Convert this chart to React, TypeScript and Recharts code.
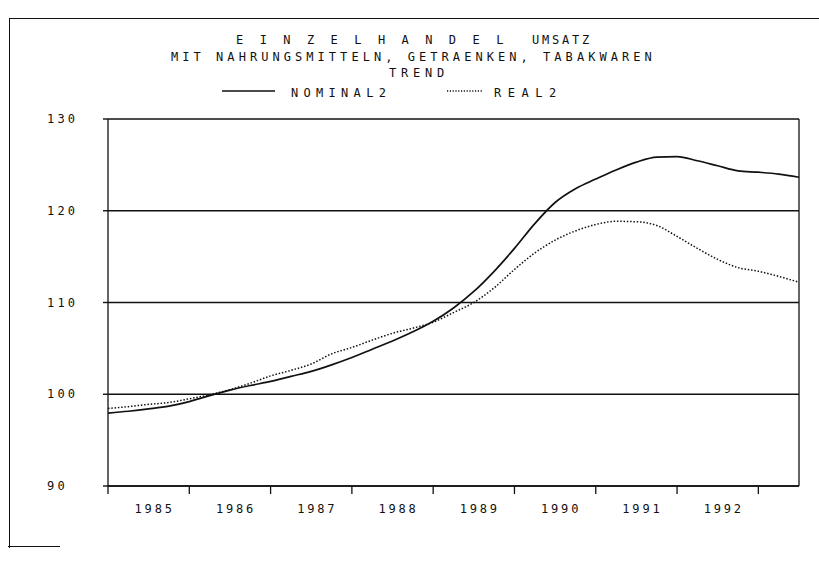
import React from 'react';
import {
  LineChart,
  Line,
  XAxis,
  YAxis,
  CartesianGrid,
  ReferenceLine,
} from 'recharts';

// quarterly trend values
const years = [
  1985, 1985.25, 1985.5, 1985.75,
  1986, 1986.25, 1986.5, 1986.75,
  1987, 1987.25, 1987.5, 1987.75,
  1988, 1988.25, 1988.5, 1988.75,
  1989, 1989.25, 1989.5, 1989.75,
  1990, 1990.25, 1990.5, 1990.75,
  1991, 1991.25, 1991.5, 1991.75,
  1992, 1992.25, 1992.5, 1992.75,
  1993, 1993.25, 1993.5,
];

const nominal2 = [
  97.95, 98.15, 98.4, 98.7,
  99.2, 99.85, 100.45, 100.95,
  101.4, 101.95, 102.5, 103.2,
  104.0, 104.9, 105.8, 106.8,
  107.95, 109.4, 111.2, 113.4,
  115.9, 118.6, 120.9, 122.4,
  123.45, 124.45, 125.3, 125.85,
  125.9, 125.45, 124.9, 124.35,
  124.2, 124.0, 123.65,
];

const real2 = [
  98.45, 98.65, 98.9, 99.1,
  99.5, 99.95, 100.5, 101.2,
  102.0, 102.6, 103.3, 104.4,
  105.1, 105.9, 106.65, 107.2,
  107.85, 108.9, 110.0, 111.6,
  113.6, 115.4, 116.8, 117.8,
  118.5, 118.85, 118.8, 118.4,
  117.2, 115.9, 114.7, 113.8,
  113.4, 112.85, 112.2,
];

const yTicks = [90, 100, 110, 120, 130];
const yearTicks = [1985, 1986, 1987, 1988, 1989, 1990, 1991, 1992, 1993];
const yearLabels = [1985, 1986, 1987, 1988, 1989, 1990, 1991, 1992];

const data = years.map((t, i) => ({ t, nominal: nominal2[i], real: real2[i] }));

// integer ticks get a tick mark, half-year ticks carry the year label
const xTickValues = [
  ...yearTicks,
  ...yearLabels.map((y) => y + 0.5),
].sort((a, b) => a - b);

const FONT = '"DejaVu Sans Mono", monospace';

function XTick(props: any) {
  const { x, y, payload } = props;
  const v = payload.value as number;
  if (Number.isInteger(v)) {
    return <line x1={x} x2={x} y1={y} y2={y + 8} stroke="#111" strokeWidth={1.3} />;
  }
  return (
    <text
      x={x + 6}
      y={y + 27}
      textAnchor="middle"
      fontFamily={FONT}
      fontSize={12}
      letterSpacing={2.8}
      fill="#111"
    >
      {Math.floor(v)}
    </text>
  );
}

function YTick(props: any) {
  const { x, y, payload } = props;
  return (
    <text
      x={x - 56}
      y={y + 4}
      textAnchor="start"
      fontFamily={FONT}
      fontSize={12}
      letterSpacing={3.2}
      fill="#111"
    >
      {payload.value}
    </text>
  );
}

export default function App() {
  return (
    <div
      style={{
        position: 'absolute',
        left: 0,
        top: 0,
        width: 819,
        height: 564,
        background: '#fff',
        overflow: 'hidden',
      }}
    >
      {/* page frame */}
      <div
        style={{
          position: 'absolute',
          left: 9,
          top: 18,
          width: 830,
          height: 529,
          borderLeft: '1.5px solid #111',
          borderTop: '1.5px solid #111',
        }}
      />
      <div
        style={{
          position: 'absolute',
          left: 8,
          top: 546,
          width: 52,
          height: 0,
          borderTop: '1.5px solid #111',
        }}
      />

      <LineChart
        width={819}
        height={564}
        data={data}
        margin={{ top: 119, right: 20, bottom: 48, left: 48 }}
      >
        <CartesianGrid vertical={false} stroke="#111" strokeWidth={1.4} />
        <XAxis
          dataKey="t"
          type="number"
          domain={[1985, 1993.5]}
          ticks={xTickValues}
          interval={0}
          height={30}
          tickSize={0}
          tickMargin={0}
          axisLine={{ stroke: '#111', strokeWidth: 1.4 }}
          tickLine={false}
          tick={<XTick />}
        />
        <YAxis
          type="number"
          domain={[90, 130]}
          ticks={yTicks}
          width={60}
          tickSize={5}
          tickMargin={0}
          axisLine={{ stroke: '#111', strokeWidth: 1.3 }}
          tickLine={{ stroke: '#111', strokeWidth: 1.4 }}
          tick={<YTick />}
        />
        <ReferenceLine x={1993.5} stroke="#111" strokeWidth={1.3} />
        <Line
          type="monotone"
          dataKey="nominal"
          stroke="#111"
          strokeWidth={1.7}
          dot={false}
          isAnimationActive={false}
          name="NOMINAL2"
        />
        <Line
          type="monotone"
          dataKey="real"
          stroke="#111"
          strokeWidth={1.5}
          strokeDasharray="1.5 1.8"
          dot={false}
          isAnimationActive={false}
          name="REAL2"
        />
      </LineChart>

      {/* title block and legend */}
      <svg
        width={819}
        height={110}
        style={{ position: 'absolute', left: 0, top: 0 }}
      >
        <g fontFamily={FONT} fontSize={12} fill="#111">
          <text x={236} y={44} letterSpacing={4.6} xmlSpace="preserve">
            {'E I N Z E L H A N D E L'}
          </text>
          <text x={532} y={44} letterSpacing={2.8}>
            UMSATZ
          </text>
          <text x={171} y={61} letterSpacing={4.05}>
            MIT NAHRUNGSMITTELN, GETRAENKEN, TABAKWAREN
          </text>
          <text x={389} y={77} letterSpacing={4.8}>
            TREND
          </text>
          <line x1={222} x2={275} y1={91} y2={91} stroke="#111" strokeWidth={1.4} />
          <text x={291} y={97} letterSpacing={5.3}>
            NOMINAL2
          </text>
          <line
            x1={447}
            x2={482}
            y1={91}
            y2={91}
            stroke="#111"
            strokeWidth={1.3}
            strokeDasharray="1.2 1.6"
          />
          <text x={494} y={97} letterSpacing={6.5}>
            REAL2
          </text>
        </g>
      </svg>
    </div>
  );
}
